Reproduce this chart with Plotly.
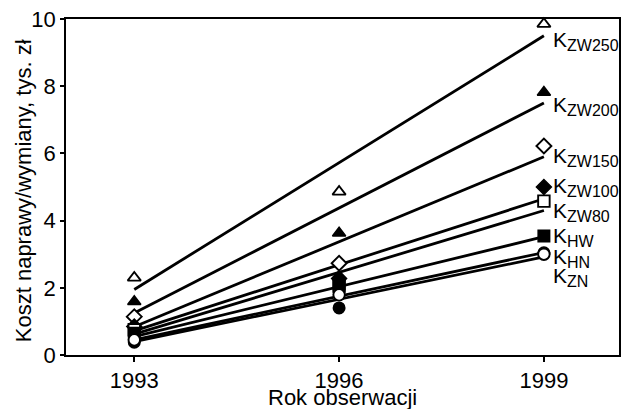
import plotly.graph_objects as go

years = [1993, 1996, 1999]
series_names = ["ZW250", "ZW200", "ZW150", "ZW100", "ZW80", "HW", "HN", "ZN"]

# observed values (thousand zł)
k_zw250 = [2.30, 4.86, 9.85]
k_zw200 = [1.59, 3.63, 7.82]
k_zw150 = [1.14, 2.73, 6.22]
k_zw100 = [0.85, 2.28, 5.00]
k_zw80 = [0.75, 2.05, 4.58]
k_hw = [0.65, 2.12, 3.54]
k_hn = [0.38, 1.40, 3.04]
k_zn = [0.45, 1.79, 3.00]

# trend line values at 1993 and 1999
trend_1993 = [1.95, 1.25, 0.84, 0.72, 0.62, 0.55, 0.45, 0.40]
trend_1999 = [9.50, 7.50, 5.90, 4.65, 4.30, 3.52, 3.05, 2.92]

# label anchor values at right edge
label_y = [9.35, 7.40, 5.90, 5.00, 4.26, 3.51, 2.89, 2.33]

values = [k_zw250, k_zw200, k_zw150, k_zw100, k_zw80, k_hw, k_hn, k_zn]
symbols = ["triangle-up", "triangle-up", "diamond", "diamond", "square", "square", "circle", "circle"]
filled = [False, True, False, True, False, True, True, False]

fig = go.Figure()

for i, name in enumerate(series_names):
    fig.add_trace(go.Scatter(
        x=[years[0], years[-1]], y=[trend_1993[i], trend_1999[i]],
        mode="lines", line=dict(color="black", width=2.8),
        showlegend=False, hoverinfo="skip"))

for i, name in enumerate(series_names):
    fig.add_trace(go.Scatter(
        x=years, y=values[i], mode="markers", name=name, cliponaxis=False,
        marker=dict(symbol=symbols[i], size=11.5,
                    color="black" if filled[i] else "white",
                    line=dict(color="black", width=1.5 if filled[i] else 1.9)),
        showlegend=False))

font_family = "Liberation Sans, Arial, sans-serif"
for i, name in enumerate(series_names):
    fig.add_annotation(x=1999.1, y=label_y[i], xref="x", yref="y",
                       text="K<sub><span style='font-size:16px'>" + name + "</span></sub>",
                       showarrow=False, xanchor="left", yanchor="middle",
                       font=dict(family=font_family, size=21, color="black"))

fig.add_annotation(x=0.5, y=-0.125, xref="paper", yref="paper",
                   text="Rok obserwacji", showarrow=False,
                   xanchor="center", yanchor="middle",
                   font=dict(family=font_family, size=22, color="black"))
fig.add_annotation(x=-0.078, y=0.49, xref="paper", yref="paper",
                   text="Koszt naprawy/wymiany, tys. zł", showarrow=False,
                   textangle=-90, xanchor="center", yanchor="middle",
                   font=dict(family=font_family, size=22, color="black"))

fig.update_layout(
    width=625, height=409,
    margin=dict(l=66, r=6, t=19, b=54),
    plot_bgcolor="white", paper_bgcolor="white",
    font=dict(family=font_family, size=22, color="black"),
    showlegend=False,
)
fig.update_xaxes(range=[1992.0, 2000.1], tickvals=years, ticktext=[str(y) for y in years],
                 ticks="outside", ticklen=5, tickwidth=1.5, tickcolor="black",
                 showline=True, linecolor="black", linewidth=1.5, mirror=True,
                 showgrid=False, zeroline=False, automargin=False,
                 tickfont=dict(size=22))
fig.update_yaxes(range=[0, 10], tickvals=[0, 2, 4, 6, 8, 10],
                 ticks="outside", ticklen=4, tickwidth=1.5, tickcolor="black",
                 showline=True, linecolor="black", linewidth=1.5, mirror=True,
                 showgrid=False, zeroline=False, automargin=False,
                 tickfont=dict(size=22))

fig.write_html("out.html", config={"displayModeBar": False},
               post_script="document.body.style.margin='0';document.body.style.overflow='hidden';")
